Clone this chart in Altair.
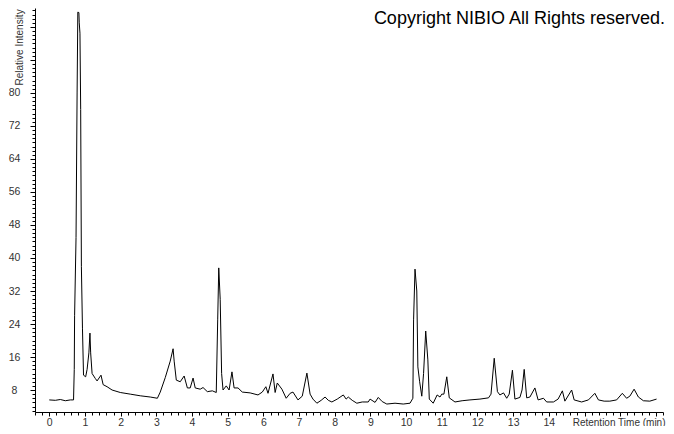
import altair as alt
import pandas as pd
import numpy as np

# Retention time (min) and relative intensity
time_min = [
    0.00, 0.17, 0.31, 0.45, 0.59, 0.68, 0.70, 0.71, 0.75, 0.78, 0.80, 0.83, 0.84, 0.86, 0.88,
    0.90, 0.93, 0.96, 1.02, 1.06, 1.11, 1.14, 1.16, 1.20, 1.29, 1.34, 1.45, 1.51, 1.62, 1.76,
    1.99, 2.27, 2.55, 2.83, 3.03, 3.11, 3.25, 3.39, 3.47, 3.50, 3.56, 3.67, 3.78, 3.87, 3.95,
    4.03, 4.09, 4.23, 4.31, 4.43, 4.57, 4.68, 4.72, 4.75, 4.79, 4.83, 4.87, 4.96, 5.04, 5.12,
    5.18, 5.29, 5.41, 5.63, 5.85, 5.97, 6.07, 6.13, 6.27, 6.33, 6.39, 6.52, 6.64, 6.75, 6.83,
    6.97, 7.09, 7.22, 7.31, 7.39, 7.50, 7.62, 7.73, 7.82, 7.92, 8.07, 8.24, 8.32, 8.38, 8.49,
    8.62, 8.77, 8.94, 8.99, 9.13, 9.22, 9.33, 9.46, 9.69, 9.92, 10.11, 10.19, 10.21, 10.25, 10.30,
    10.33, 10.38, 10.44, 10.49, 10.55, 10.61, 10.65, 10.76, 10.87, 10.95, 11.00, 11.06, 11.14, 11.21, 11.37,
    11.57, 11.79, 12.07, 12.31, 12.38, 12.47, 12.56, 12.63, 12.73, 12.82, 12.89, 12.98, 13.05, 13.19, 13.25,
    13.31, 13.38, 13.47, 13.61, 13.70, 13.85, 13.94, 14.13, 14.26, 14.38, 14.45, 14.64, 14.71, 14.92, 15.11,
    15.29, 15.39, 15.55, 15.71, 15.90, 16.06, 16.18, 16.27, 16.39, 16.51, 16.65, 16.83, 17.02,
]
intensity = [
    5.6, 5.5, 5.7, 5.4, 5.6, 5.6, 13.0, 26.0, 45.0, 80.0, 99.6, 99.5, 97.0, 94.5, 76.0,
    38.0, 23.0, 11.6, 11.2, 13.0, 17.0, 21.8, 17.0, 12.0, 10.8, 10.2, 11.6, 9.3, 8.8, 8.0,
    7.4, 7.0, 6.6, 6.3, 6.0, 7.5, 11.0, 15.0, 18.0, 15.0, 10.4, 10.0, 11.4, 8.5, 8.5,
    10.9, 8.5, 8.2, 8.6, 7.6, 7.8, 7.4, 25.0, 37.6, 30.0, 12.0, 8.0, 9.0, 8.0, 12.4,
    8.5, 8.5, 7.5, 7.3, 6.8, 7.5, 8.8, 7.2, 11.9, 7.4, 9.7, 8.2, 6.0, 7.2, 7.5,
    5.6, 6.5, 12.1, 7.0, 5.8, 4.8, 5.5, 6.3, 5.5, 5.1, 5.8, 6.8, 5.8, 6.3, 5.5,
    4.8, 5.1, 5.1, 5.8, 5.0, 6.2, 5.2, 4.6, 4.8, 4.6, 4.8, 6.0, 25.0, 37.3, 32.0,
    13.6, 10.0, 6.5, 12.0, 22.3, 15.3, 5.8, 4.8, 6.8, 6.3, 7.0, 7.0, 11.2, 6.1, 5.1,
    5.4, 5.6, 5.8, 6.1, 7.0, 15.7, 7.6, 6.8, 7.3, 6.0, 7.0, 12.8, 5.8, 6.2, 8.0,
    13.0, 6.1, 6.3, 8.5, 5.6, 6.0, 5.1, 5.1, 5.8, 7.8, 5.3, 8.0, 5.6, 5.1, 5.6,
    7.2, 5.6, 5.3, 5.3, 5.6, 7.2, 6.0, 6.5, 8.2, 6.3, 5.4, 5.3, 5.8,
]
copyright_text = ["Copyright NIBIO All Rights reserved."]

df = pd.DataFrame({"t": time_min, "i": intensity})

x_ticks = [round(float(v), 1) for v in np.arange(-0.4, 17.21, 0.2)]
y_ticks = list(range(3, 101))

label_color = "#333333"
font = "Liberation Sans"

x_axis = alt.Axis(
    values=x_ticks,
    labelExpr="(abs(datum.value - round(datum.value)) < 0.01 && datum.value >= 0 && datum.value <= 14) ? format(round(datum.value), 'd') : ''",
    tickSize={"condition": {"test": "abs(datum.value - round(datum.value)) < 0.01", "value": 4}, "value": 3},
    grid=False,
    domainColor="black",
    tickColor="black",
    labelColor=label_color,
    labelFont=font,
    labelFontSize=10.5,
    labelPadding=1,
    labelFlush=False,
    labelOverlap=False,
    title="Retention Time (min)",
    titleFont=font,
    titleFontSize=10,
    titleFontWeight="normal",
    titleColor=label_color,
    titleX=630,
    titleY=10,
    titleAlign="right",
    titleBaseline="middle",
)

y_axis = alt.Axis(
    values=y_ticks,
    labelExpr="(datum.value % 8 === 0 && datum.value <= 80) ? datum.label : ''",
    tickSize={"condition": {"test": "datum.value % 8 === 0", "value": 5}, "value": 3},
    grid=False,
    domainColor="black",
    tickColor="black",
    labelColor=label_color,
    labelFont=font,
    labelFontSize=10.5,
    labelAlign="center",
    labelPadding=16,
    labelFlush=False,
    labelOverlap=False,
    title="Relative Intensity",
    titleFont=font,
    titleFontSize=10,
    titleFontWeight="normal",
    titleColor=label_color,
    titleAngle=270,
    titleX=-16,
    titleY=77,
    titleAlign="left",
    titleBaseline="middle",
)

line = alt.Chart(df).mark_line(color="black", strokeWidth=1, interpolate="linear").encode(
    x=alt.X("t:Q", scale=alt.Scale(domain=[-0.4, 17.2], nice=False, zero=False), axis=x_axis),
    y=alt.Y("i:Q", scale=alt.Scale(domain=[2.67, 100.6], nice=False, zero=False), axis=y_axis),
)

note = alt.Chart(pd.DataFrame({"label": copyright_text})).mark_text(
    align="right", baseline="top", fontSize=18, font=font, color="black"
).encode(
    text="label:N",
    x=alt.value(630),
    y=alt.value(2),
)

chart = alt.layer(line, note).properties(
    width=628,
    height=404,
    autosize=alt.AutoSizeParams(type="none"),
    padding={"left": 27, "top": 0, "right": 3, "bottom": 14},
).configure_view(stroke=None)

chart.save("out.html", embed_options={"renderer": "svg", "actions": False})
